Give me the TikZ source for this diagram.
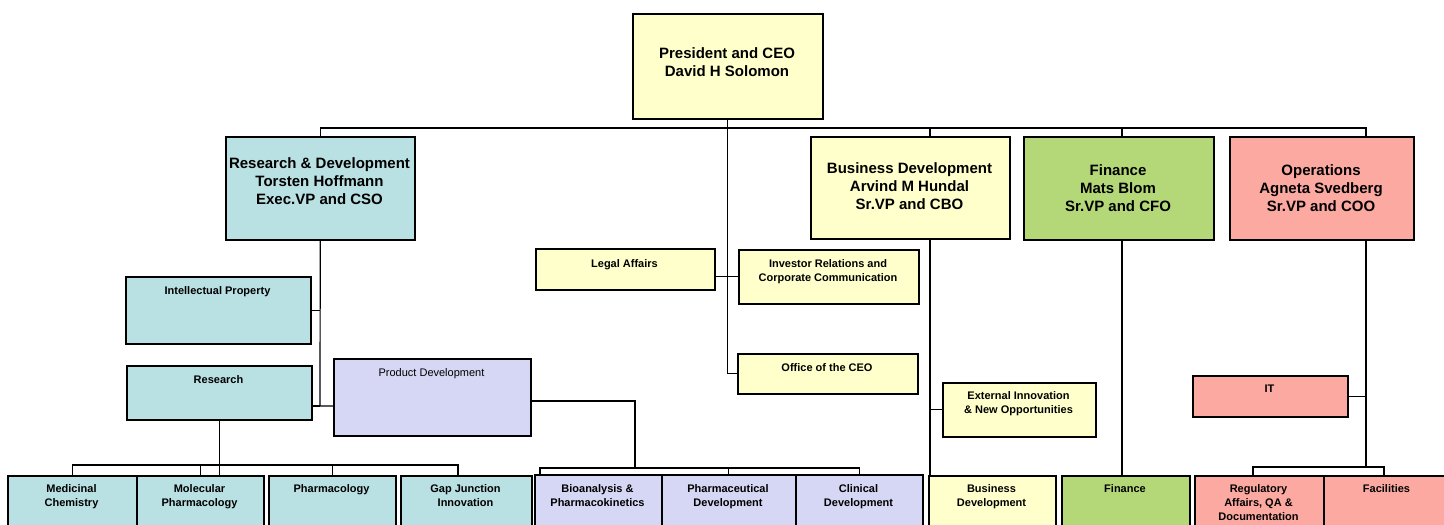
\documentclass[tikz,border=0pt]{standalone}
\usepackage{fontspec}
\setmainfont{Liberation Sans}
\definecolor{rdteal}{HTML}{B9E0E2}
\definecolor{bdyellow}{HTML}{FFFFCC}
\definecolor{fingreen}{HTML}{B4D878}
\definecolor{opssalmon}{HTML}{FBA9A1}
\definecolor{pdlilac}{HTML}{D6D6F5}
\tikzset{
  orgbox/.style={draw, line width=1.5pt, inner sep=0pt, anchor=north west},
  headtext/.style={align=center, inner sep=0pt, font=\bfseries\fontsize{15}{18}\selectfont},
  unittext/.style={align=center, inner sep=0pt, anchor=north, font=\bfseries\fontsize{11}{14}\selectfont},
  link/.style={line width=1.2pt},
}
\begin{document}
\begin{tikzpicture}[x=1pt, y=-1pt]
  \useasboundingbox (0,0) rectangle (1444,525);
  \clip (0,0) rectangle (1444,525);
  % top level
  \node[orgbox, fill=bdyellow, minimum width=190, minimum height=105] (ceo) at (632,13) {};
  \node[orgbox, fill=rdteal, minimum width=189, minimum height=103] (rd) at (225,136) {};
  \node[orgbox, fill=bdyellow, minimum width=199, minimum height=102] (bd) at (810,136) {};
  \node[orgbox, fill=fingreen, minimum width=190, minimum height=103] (fin) at (1023,136) {};
  \node[orgbox, fill=opssalmon, minimum width=184, minimum height=103] (ops) at (1229,136) {};
  \node[headtext] (ceo-t) at (727,62) {President and CEO\\David H Solomon};
  \node[headtext] (rd-t) at (319.5,181) {Research \& Development\\Torsten Hoffmann\\Exec.VP and CSO};
  \node[headtext] (bd-t) at (909.5,186) {Business Development\\Arvind M Hundal\\Sr.VP and CBO};
  \node[headtext] (fin-t) at (1118,188) {Finance\\Mats Blom\\Sr.VP and CFO};
  \node[headtext] (ops-t) at (1321,188) {Operations\\Agneta Svedberg\\Sr.VP and COO};
  % staff units
  \node[orgbox, fill=bdyellow, minimum width=179, minimum height=41] (legal) at (535,248) {};
  \node[orgbox, fill=bdyellow, minimum width=180, minimum height=54] (ir) at (738,249) {};
  \node[orgbox, fill=bdyellow, minimum width=180, minimum height=40] (office) at (737,353) {};
  \node[orgbox, fill=rdteal, minimum width=185, minimum height=67] (ip) at (125,276) {};
  \node[orgbox, fill=rdteal, minimum width=185, minimum height=54] (res) at (126,365) {};
  \node[orgbox, fill=pdlilac, minimum width=197, minimum height=77] (pd) at (333,358) {};
  \node[orgbox, fill=bdyellow, minimum width=153, minimum height=54] (ext) at (942,382) {};
  \node[orgbox, fill=opssalmon, minimum width=155, minimum height=41] (it) at (1192,375) {};
  \node[unittext] (legal-t) at (624.5,259) {Legal Affairs};
  \node[unittext] (ir-t) at (828,259) {Investor Relations and\\Corporate Communication};
  \node[unittext] (office-t) at (827,363) {Office of the CEO};
  \node[unittext] (ip-t) at (217.5,286) {Intellectual Property};
  \node[unittext] (res-t) at (218.5,375) {Research};
  \node[unittext, font=\fontsize{11}{14}\selectfont] (pd-t) at (431.5,368) {Product Development};
  \node[unittext] (ext-t) at (1018.5,391) {External Innovation\\\& New Opportunities};
  \node[unittext] (it-t) at (1269.5,385) {IT};
  % bottom row
  \node[orgbox, fill=rdteal, minimum width=129, minimum height=70] (medchem) at (7,475) {};
  \node[orgbox, fill=rdteal, minimum width=127, minimum height=70] (molph) at (136,475) {};
  \node[orgbox, fill=rdteal, minimum width=127, minimum height=70] (pharm) at (268,475) {};
  \node[orgbox, fill=rdteal, minimum width=131, minimum height=70] (gapj) at (400,475) {};
  \node[orgbox, fill=pdlilac, minimum width=127, minimum height=70] (bio) at (534,474) {};
  \node[orgbox, fill=pdlilac, minimum width=134, minimum height=70] (pharmdev) at (661,474) {};
  \node[orgbox, fill=pdlilac, minimum width=127, minimum height=70] (clin) at (795,474) {};
  \node[orgbox, fill=bdyellow, minimum width=127, minimum height=70] (bdev) at (928,475) {};
  \node[orgbox, fill=fingreen, minimum width=128, minimum height=70] (finance) at (1061,475) {};
  \node[orgbox, fill=opssalmon, minimum width=129, minimum height=70] (reg) at (1194,475) {};
  \node[orgbox, fill=opssalmon, minimum width=127, minimum height=70] (fac) at (1323,475) {};
  \node[unittext] (medchem-t) at (71.5,484) {Medicinal\\Chemistry};
  \node[unittext] (molph-t) at (199.5,484) {Molecular\\Pharmacology};
  \node[unittext] (pharm-t) at (331.5,484) {Pharmacology};
  \node[unittext] (gapj-t) at (465.5,484) {Gap Junction\\Innovation};
  \node[unittext] (bio-t) at (597.5,484) {Bioanalysis \&\\Pharmacokinetics};
  \node[unittext] (pharmdev-t) at (728,484) {Pharmaceutical\\Development};
  \node[unittext] (clin-t) at (858.5,484) {Clinical\\Development};
  \node[unittext] (bdev-t) at (991.5,484) {Business\\Development};
  \node[unittext] (finance-t) at (1125,484) {Finance};
  \node[unittext] (reg-t) at (1258.5,484) {Regulatory\\Affairs, QA \&\\Documentation};
  \node[unittext] (fac-t) at (1386.5,484) {Facilities};
  % lines
  \coordinate (bus) at (0,128);
  \coordinate (bdv) at (930,0);
  \coordinate (finv) at (1122,0);
  \coordinate (opsv) at (1366,0);
  \coordinate (rdj) at (320,406);
  \coordinate (rbus) at (458,465);
  \coordinate (pdj) at (635,401);
  \coordinate (pbus) at (540,468);
  \coordinate (obus) at (1253,467);
  \coordinate (obus2) at (1384,467);
  \begin{scope}[link]
    \draw (rd.north) -- (rd.north |- bus) -- (opsv |- bus) -- (opsv |- ops.north);
    \draw (bdv |- bus) -- (bdv |- bd.north);
    \draw (finv |- bus) -- (finv |- fin.north);
    \draw (ceo.south) |- (office.west);
    \draw (legal.east |- ir.west) -- (ir.west);
    \draw (rd.south) -- (rdj) -- (rdj -| pd.west);
    \draw (rdj -| res.east) -- (rdj);
    \draw (ip.east) -- (ip.east -| rdj);
    \draw (res.south) -- (res.south |- molph.north);
    \draw (medchem.north) |- (rbus) -- (rbus |- gapj.north);
    \draw (molph.north) -- (molph.north |- rbus);
    \draw (pharm.north) -- (pharm.north |- rbus);
    \draw (pdj -| pd.east) -- (pdj) -- (pdj |- pbus);
    \draw (pbus |- bio.north) -- (pbus) -| (clin.north);
    \draw (pharmdev.north) -- (pharmdev.north |- pbus);
    \draw (bdv |- bd.south) -- (bdv |- bdev.north);
    \draw (bdv |- ext.west) -- (ext.west);
    \draw (finv |- fin.south) -- (finv |- finance.north);
    \draw (opsv |- ops.south) -- (opsv |- obus);
    \draw (opsv |- it.east) -- (it.east);
    \draw (obus |- reg.north) -- (obus) -- (obus2) -- (obus2 |- fac.north);
  \end{scope}
\end{tikzpicture}
\end{document}
